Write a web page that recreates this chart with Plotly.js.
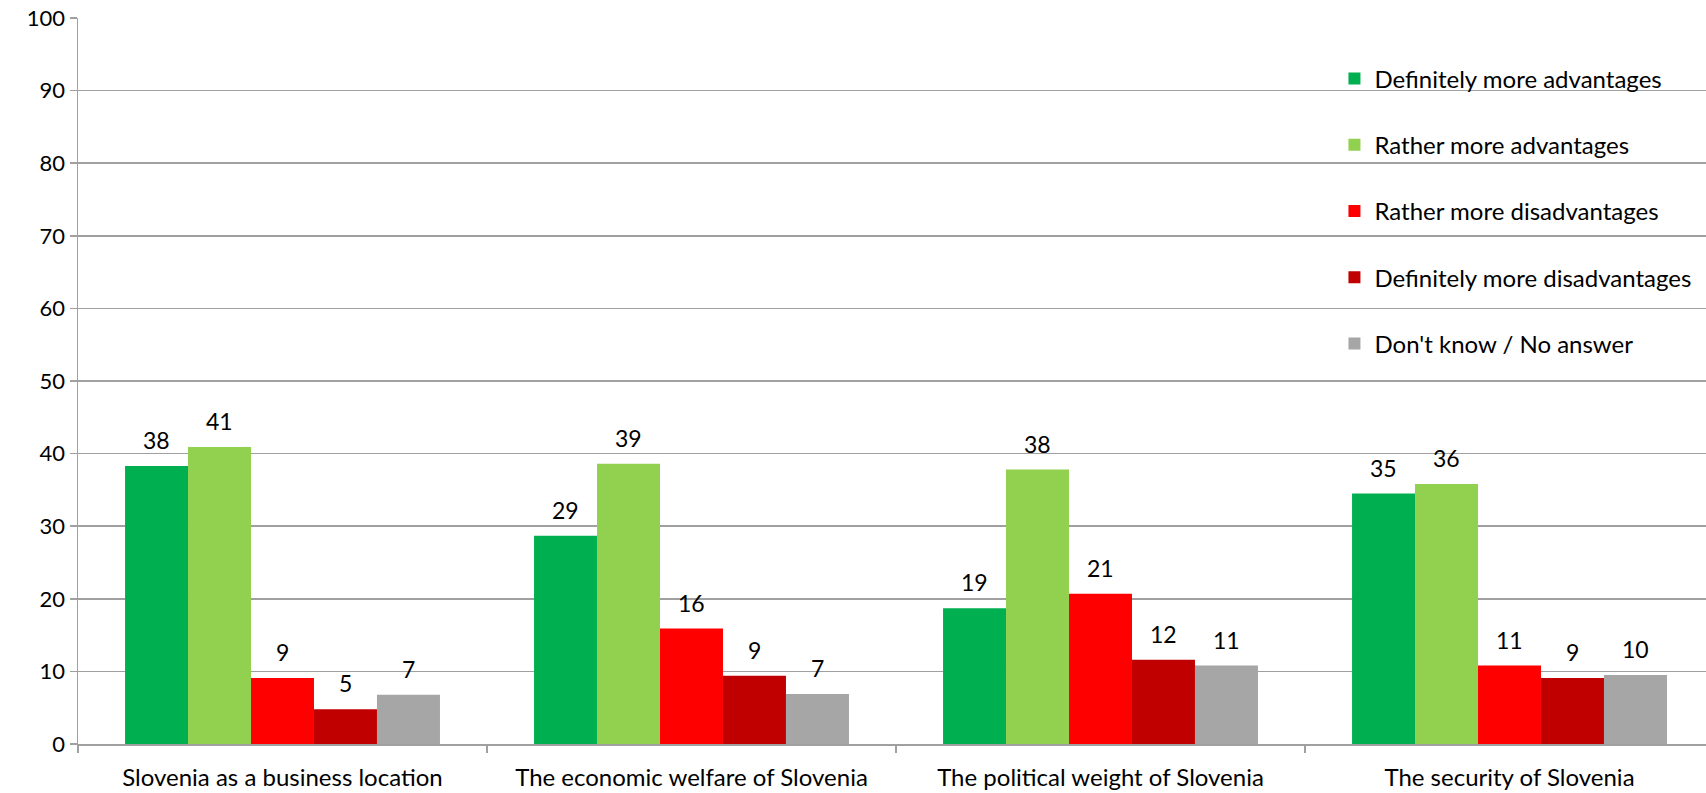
<!DOCTYPE html>
<html>
<head>
<meta charset="utf-8">
<script src="https://cdn.plot.ly/plotly-3.0.1.min.js"></script>
<style>
html,body{margin:0;padding:0;overflow:hidden;background:#fff;}
#chart{width:1714px;height:793px;}
</style>
</head>
<body>
<div id="chart"></div>
<script>
const categories = ["Slovenia as a business location", "The economic welfare of Slovenia", "The political weight of Slovenia", "The security of Slovenia"];
const seriesNames = ["Definitely more advantages", "Rather more advantages", "Rather more disadvantages", "Definitely more disadvantages", "Don't know / No answer"];
const definitelyAdv = [38.3, 28.7, 18.7, 34.5];
const ratherAdv = [40.9, 38.6, 37.8, 35.8];
const ratherDisadv = [9.1, 15.9, 20.7, 10.8];
const definitelyDisadv = [4.8, 9.4, 11.6, 9.1];
const dontKnow = [6.8, 6.9, 10.8, 9.5];
const colors = ["#00B050", "#92D050", "#FF0000", "#C00000", "#A6A6A6"];
const yTicks = [0, 10, 20, 30, 40, 50, 60, 70, 80, 90, 100];

const FONT = "Lato, 'Open Sans', sans-serif";
const BARGAP = 0.23;
const allSeries = [definitelyAdv, ratherAdv, ratherDisadv, definitelyDisadv, dontKnow];
const nS = allSeries.length;
const barW = (1 - BARGAP) / nS;

const traces = allSeries.map((vals, i) => ({
  type: 'bar',
  name: seriesNames[i],
  x: categories.map((c, k) => k),
  y: vals,
  marker: {color: colors[i], line: {width: 0}},
  legendgroup: 'g' + i,
  hoverinfo: 'skip'
}));

const annotations = [];
allSeries.forEach((vals, i) => {
  vals.forEach((v, k) => {
    annotations.push({
      x: k + (i - (nS - 1) / 2) * barW,
      y: v,
      xref: 'x', yref: 'y',
      text: String(Math.round(v)),
      showarrow: false,
      xanchor: 'center', yanchor: 'bottom',
      yshift: 10,
      font: {family: FONT, size: 23, color: '#000'}
    });
  });
});

const layout = {
  width: 1714,
  height: 793,
  margin: {l: 78, r: 0, t: 18, b: 49},
  paper_bgcolor: '#fff',
  plot_bgcolor: '#fff',
  barmode: 'group',
  bargap: BARGAP,
  bargroupgap: 0,
  showlegend: true,
  annotations: annotations,
  legend: {
    x: 0.768, y: 0.947, xanchor: 'left', yanchor: 'top',
    bgcolor: 'rgba(0,0,0,0)',
    font: {family: FONT, size: 24, color: '#000'},
    traceorder: 'grouped',
    tracegroupgap: 32,
    itemwidth: 30
  },
  xaxis: {
    type: 'linear',
    range: [-0.5, categories.length - 0.5],
    tickvals: categories.map((c, k) => k),
    ticktext: categories,
    showgrid: false,
    showline: true,
    linecolor: '#A0A0A0',
    linewidth: 1.5,
    ticks: '',
    ticklabelstandoff: 12,
    tickfont: {family: FONT, size: 24, color: '#000'},
    zeroline: false,
    automargin: false,
    minor: {
      tickvals: [0.5, 1.5, 2.5, 3.5].map(v => v - 1).concat([3.5]).map(v => v),
      ticks: 'outside',
      ticklen: 7,
      tickcolor: '#A0A0A0',
      tickwidth: 1.5,
      showgrid: false
    }
  },
  yaxis: {
    range: [0, 100],
    tickvals: yTicks,
    ticktext: yTicks.map(String),
    showgrid: true,
    gridcolor: '#A0A0A0',
    gridwidth: 1.5,
    showline: true,
    linecolor: '#A0A0A0',
    linewidth: 1.5,
    ticks: 'outside',
    ticklen: 7,
    tickcolor: '#A0A0A0',
    tickwidth: 1.5,
    zeroline: false,
    tickfont: {family: FONT, size: 22, color: '#000'},
    automargin: false
  }
};

Plotly.newPlot('chart', traces, layout, {displayModeBar: false, staticPlot: true});
</script>
</body>
</html>
